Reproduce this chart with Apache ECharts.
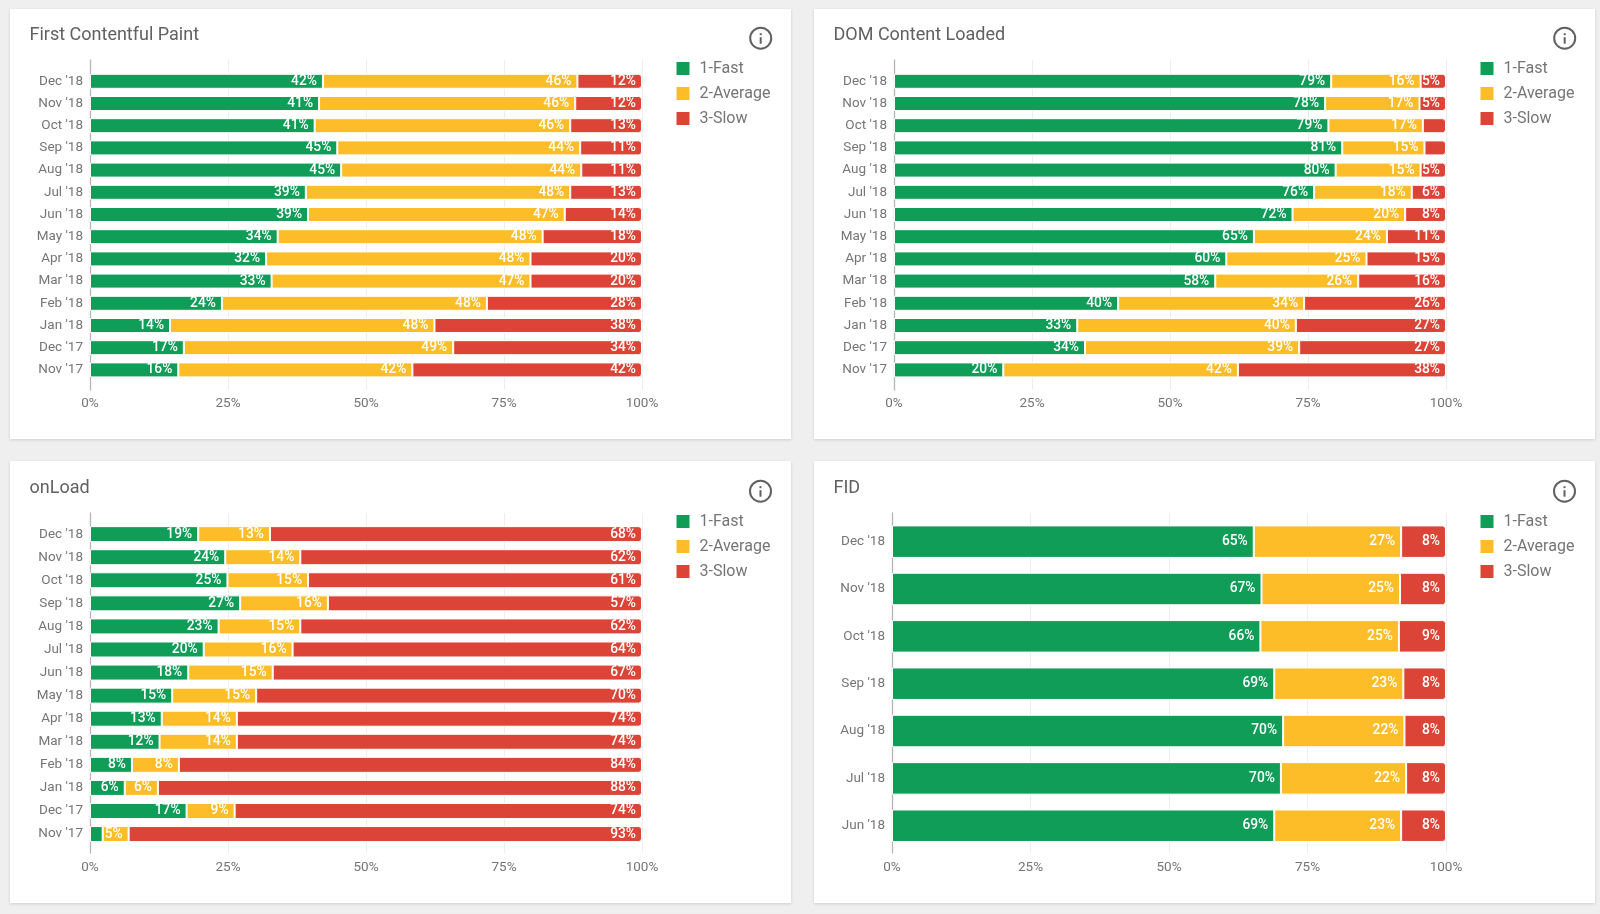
<!DOCTYPE html>
<html>
<head>
<meta charset="utf-8">
<script src="https://cdn.jsdelivr.net/npm/echarts@6/dist/echarts.min.js"></script>
<style>
html,body{margin:0;padding:0;width:1600px;height:914px;background:#efefef;overflow:hidden}
.card{position:absolute;background:#fff;box-shadow:0 1px 3px rgba(0,0,0,.14)}
</style>
</head>
<body>
<div class="card" id="c1" style="left:10px;top:9px;width:781px;height:430px"></div>
<div class="card" id="c2" style="left:814px;top:9px;width:781px;height:430px"></div>
<div class="card" id="c3" style="left:10px;top:461px;width:781px;height:442px"></div>
<div class="card" id="c4" style="left:814px;top:461px;width:781px;height:442px"></div>
<script>
const months14 = ["Dec '18","Nov '18","Oct '18","Sep '18","Aug '18","Jul '18","Jun '18","May '18","Apr '18","Mar '18","Feb '18","Jan '18","Dec '17","Nov '17"];
const months7 = ["Dec '18","Nov '18","Oct '18","Sep '18","Aug '18","Jul '18","Jun '18"];
const seriesNames = ["1-Fast","2-Average","3-Slow"];

const fcpFast = [42.2,41.5,40.7,44.8,45.5,39.1,39.5,34.0,31.9,32.9,23.9,14.5,17.0,16.0];
const fcpAverage = [46.1,46.4,46.3,44.0,43.5,47.9,46.5,48.0,47.9,46.9,48.0,47.9,48.8,42.4];
const fcpSlow = [11.7,12.1,13.0,11.2,11.0,13.0,14.0,18.0,20.2,20.2,28.1,37.6,34.2,41.6];
const fcpLabels = [[42,41,41,45,45,39,39,34,32,33,24,14,17,16],[46,46,46,44,44,48,47,48,48,47,48,48,49,42],[12,12,13,11,11,13,14,18,20,20,28,38,34,42]];

const dclFast = [79.2,78.1,78.7,81.2,80.0,76.1,72.2,65.2,60.2,58.2,40.6,33.2,34.6,19.8];
const dclAverage = [16.2,17.1,17.1,14.9,15.4,17.7,20.4,24.1,25.4,25.9,33.7,39.6,38.8,42.5];
const dclSlow = [4.6,4.8,4.2,3.9,4.6,6.2,7.4,10.7,14.4,15.9,25.7,27.2,26.6,37.7];
const dclLabels = [[79,78,79,81,80,76,72,65,60,58,40,33,34,20],[16,17,17,15,15,18,20,24,25,26,34,40,39,42],[5,5,null,null,5,6,8,11,15,16,26,27,27,38]];

const loadFast = [19.6,24.5,24.9,27.2,23.3,20.6,17.8,14.9,13.0,12.6,7.6,6.3,17.5,2.3];
const loadAverage = [13.0,13.6,14.6,15.9,14.8,16.1,15.3,15.2,13.6,14.0,8.5,6.0,8.7,4.7];
const loadSlow = [67.4,61.9,60.5,56.9,61.9,63.3,66.9,69.9,73.4,73.4,83.9,87.7,73.8,93.0];
const loadLabels = [[19,24,25,27,23,20,18,15,13,12,8,6,17,null],[13,14,15,16,15,16,15,15,14,14,8,6,9,5],[68,62,61,57,62,64,67,70,74,74,84,88,74,93]];

const fidFast = [65.3,66.7,66.5,69.0,70.6,70.2,69.0];
const fidAverage = [26.6,25.0,25.0,23.3,21.9,22.6,22.9];
const fidSlow = [8.1,8.3,8.5,7.7,7.5,7.2,8.1];
const fidLabels = [[65,67,66,69,70,70,69],[27,25,25,23,22,22,23],[8,8,9,8,8,8,8]];

const FONT = 'Roboto';
const COLORS = ['#0F9D58','#FDBD29','#DB4437'];
const LABEL = '#757575';

function build(id, title, cats, fast, avg, slow, labels, g) {
  const chart = echarts.init(document.getElementById(id));
  const values = [fast, avg, slow];
  chart.setOption({
    animation: false,
    backgroundColor: '#fff',
    title: { text: title, left: 14.5, top: g.titleTop,
      textStyle: { fontFamily: FONT, fontSize: 18, fontWeight: 400, color: '#616161' } },
    legend: { orient: 'vertical', left: 664.5, top: g.axisTop, padding: 0, itemWidth: 15, itemHeight: 15, itemGap: 8,
      icon: 'rect', data: seriesNames, selectedMode: false,
      textStyle: { fontFamily: FONT, fontSize: 16, color: LABEL, padding: [0,0,0,4] } },
    grid: [
      { left: g.left, width: g.width, top: g.axisTop, height: g.axisHeight },
      { left: g.left, width: g.width, top: g.barTop, height: g.barHeight }
    ],
    xAxis: [
      { gridIndex: 0, type: 'value', min: 0, max: 100, interval: 25,
        axisLine: { show: false }, axisTick: { show: false },
        splitLine: { show: true, lineStyle: { color: '#eeeeee', width: 1 } },
        axisLabel: { fontFamily: FONT, fontSize: 13.5, color: LABEL, margin: g.xMargin, formatter: '{value}%' } },
      { gridIndex: 1, type: 'value', min: 0, max: 100, show: false }
    ],
    yAxis: [
      { gridIndex: 0, type: 'value', min: 0, max: 1,
        axisLine: { show: true, lineStyle: { color: '#b5b5b5', width: 1.3 } },
        axisTick: { show: false }, axisLabel: { show: false }, splitLine: { show: false } },
      { gridIndex: 1, type: 'category', inverse: true, data: cats,
        axisLine: { show: false }, axisTick: { show: false },
        axisLabel: { fontFamily: FONT, fontSize: 13.5, color: LABEL, margin: 7, padding: [2,0,0,0] } }
    ],
    series: seriesNames.map((name, i) => ({
      name, type: 'bar', stack: 'total', xAxisIndex: 1, yAxisIndex: 1,
      data: values[i], barWidth: g.barWidth,
      itemStyle: { color: COLORS[i], borderColor: '#fff', borderWidth: 1,
        borderRadius: i === 2 ? [0,3,3,0] : 0 },
      label: { show: true, position: 'insideRight', distance: 6, padding: [1,0,0,0],
        fontFamily: FONT, fontSize: 13.8, fontWeight: 500, color: '#fff',
        formatter: p => labels[i][p.dataIndex] == null ? '' : labels[i][p.dataIndex] + '%' }
    })),
    graphic: [{
      type: 'group', left: g.iconX - 11.5, top: g.iconY - 11.5, silent: true,
      children: [
        { type: 'circle', shape: { cx: 11.5, cy: 11.5, r: 10.5 },
          style: { fill: 'transparent', stroke: '#616161', lineWidth: 2 } },
        { type: 'rect', shape: { x: 10.5, y: 10.5, width: 2, height: 6.5 }, style: { fill: '#616161' } },
        { type: 'rect', shape: { x: 10.5, y: 6.5, width: 2, height: 2 }, style: { fill: '#616161' } }
      ]
    }]
  });
}

build('c1','First Contentful Paint',months14,fcpFast,fcpAverage,fcpSlow,fcpLabels,
  {titleTop:12,left:80,width:552,axisTop:51,axisHeight:330,barTop:61.2,barHeight:310.8,barWidth:15,xMargin:7,iconX:750.7,iconY:29.2});
build('c2','DOM Content Loaded',months14,dclFast,dclAverage,dclSlow,dclLabels,
  {titleTop:12,left:80,width:552,axisTop:51,axisHeight:330,barTop:61.2,barHeight:310.8,barWidth:15,xMargin:7,iconX:750.7,iconY:29.2});
build('c3','onLoad',months14,loadFast,loadAverage,loadSlow,loadLabels,
  {titleTop:13,left:80,width:552,axisTop:52,axisHeight:340,barTop:61.6,barHeight:323,barWidth:16,xMargin:8,iconX:750.5,iconY:30.2});
build('c4','FID',months7,fidFast,fidAverage,fidSlow,fidLabels,
  {titleTop:13,left:78,width:554,axisTop:52,axisHeight:340,barTop:57,barHeight:331.4,barWidth:32.5,xMargin:8,iconX:750.5,iconY:30.2});
</script>
</body>
</html>
